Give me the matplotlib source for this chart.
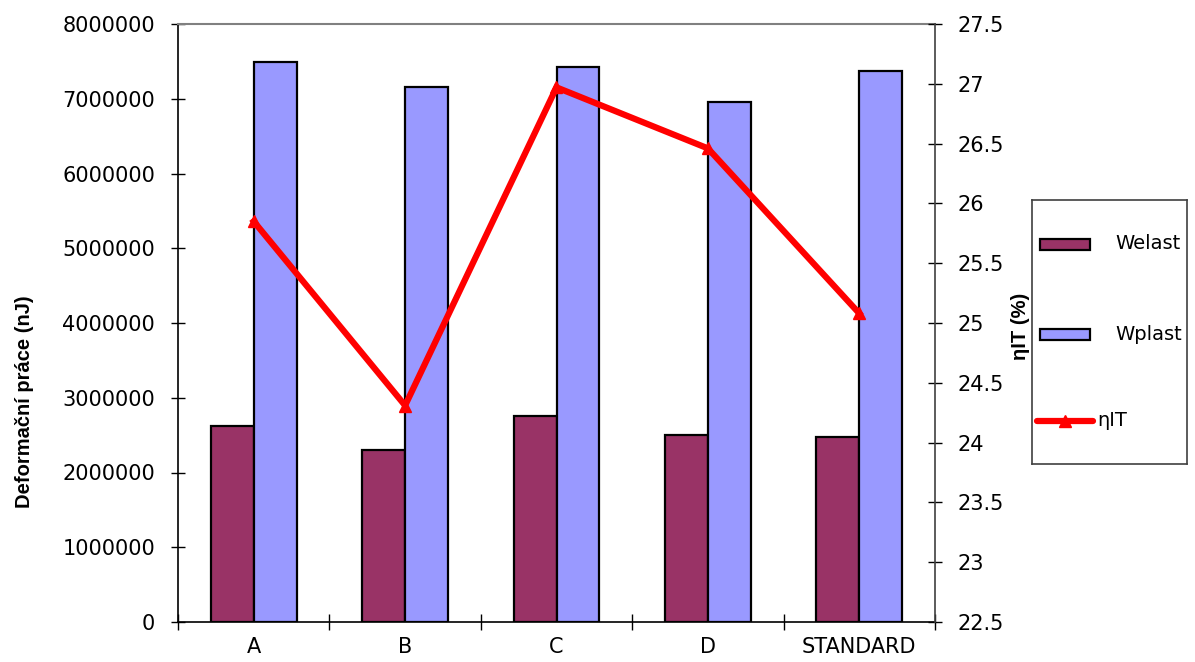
import numpy as np
import matplotlib
matplotlib.use("Agg")
import matplotlib.pyplot as plt
from matplotlib import ticker
from matplotlib.patches import Rectangle

# sample groups and measured values
CATEGORIES = ["A", "B", "C", "D", "STANDARD"]
W_ELAST = [2620000, 2300000, 2750000, 2500000, 2470000]
W_PLAST = [7490000, 7160000, 7420000, 6960000, 7370000]
ETA_IT = [25.85, 24.31, 26.97, 26.46, 25.08]

C_ELAST = "#993366"
C_PLAST = "#9999FF"
C_LINE = "#FF0000"

plt.rcParams["font.family"] = ["DejaVu Sans"]
W, H = 1195, 662

fig = plt.figure(figsize=(W / 100, H / 100), dpi=100)
ax = fig.add_axes([178 / W, 40 / H, 757 / W, 598 / H])

x = np.arange(len(CATEGORIES))
bw = 0.284
ax.bar(x - bw / 2, W_ELAST, bw, color=C_ELAST, edgecolor="black", linewidth=1.6, zorder=2)
ax.bar(x + bw / 2, W_PLAST, bw, color=C_PLAST, edgecolor="black", linewidth=1.6, zorder=2)

ax.set_xlim(-0.5, len(CATEGORIES) - 0.5)
ax.set_ylim(0, 8000000)
ax.yaxis.set_major_locator(ticker.MultipleLocator(1000000))
ax.yaxis.set_major_formatter(ticker.FuncFormatter(lambda v, p: "%d" % v))
ax.tick_params(axis="y", direction="inout", length=10, width=1, labelsize=15, pad=11.5)

# boundaries get tick marks, group names sit at centers
ax.set_xticks(np.arange(-0.5, len(CATEGORIES), 1))
ax.set_xticklabels([])
ax.set_xticks(x, minor=True)
ax.set_xticklabels(CATEGORIES, minor=True)
ax.tick_params(axis="x", which="major", direction="inout", length=12, width=1)
ax.tick_params(axis="x", which="minor", length=0, labelsize=15, pad=11)

ax.spines["top"].set_color("#808080")
ax.spines["top"].set_linewidth(1.5)
ax.spines["left"].set_linewidth(1.2)
ax.spines["bottom"].set_linewidth(1.2)
ax.spines["right"].set_visible(False)

ax2 = ax.twinx()
ax2.plot(x, ETA_IT, color=C_LINE, linewidth=4.5, marker="^", markersize=9,
         solid_joinstyle="miter", zorder=3)
ax2.set_ylim(22.5, 27.5)
ax2.yaxis.set_major_locator(ticker.MultipleLocator(0.5))
ax2.yaxis.set_major_formatter(ticker.FuncFormatter(lambda v, p: "%g" % v))
ax2.tick_params(axis="y", direction="inout", length=10, width=1, labelsize=15, pad=11.5)
ax2.spines["right"].set_color("#404040")
ax2.spines["right"].set_linewidth(1.2)
for s in ("top", "left", "bottom"):
    ax2.spines[s].set_visible(False)

fig.text(25 / W, 1 - 402 / H, "Deformační práce (nJ)", rotation=90, ha="center",
         va="center", fontsize=14.5, fontweight="bold", family="Liberation Sans")
fig.text(1021 / W, 1 - 326 / H, "ηIT (%)", rotation=90, ha="center",
         va="center", fontsize=14.5, fontweight="bold", family="Liberation Sans")

# legend box drawn by hand
lg = fig.add_axes([1032 / W, (H - 464) / H, 155 / W, 264 / H])
lg.set_xlim(0, 155)
lg.set_ylim(264, 0)
lg.set_xticks([])
lg.set_yticks([])
for s in lg.spines.values():
    s.set_color("#404040")
    s.set_linewidth(1.2)
lg.add_patch(Rectangle((8, 39), 50, 11, facecolor=C_ELAST, edgecolor="black", linewidth=1.6))
lg.text(83, 44, "Welast", va="center", ha="left", fontsize=14)
lg.add_patch(Rectangle((8, 129), 50, 11, facecolor=C_PLAST, edgecolor="black", linewidth=1.6))
lg.text(83, 134, "Wplast", va="center", ha="left", fontsize=14)
lg.plot([5, 33, 61], [221, 221, 221], color=C_LINE, linewidth=4.5, marker="^",
        markersize=9, markevery=[1], solid_capstyle="round")
lg.text(65, 221, "ηIT", va="center", ha="left", fontsize=14)

fig.savefig("out.png", dpi=100)
